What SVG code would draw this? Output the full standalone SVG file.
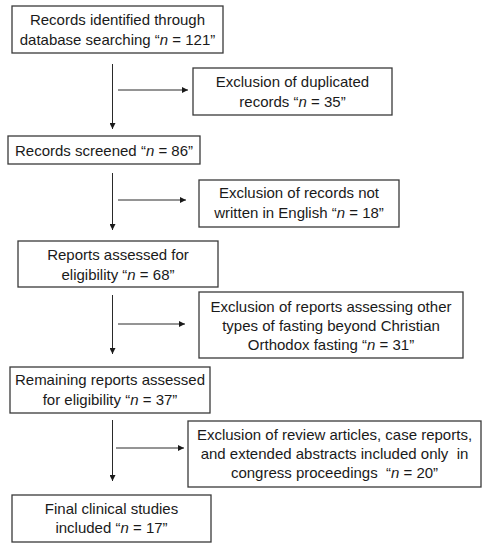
<svg xmlns="http://www.w3.org/2000/svg" width="487" height="550" viewBox="0 0 487 550">
<style>
.box{fill:#fff;stroke:#3a3a3a;stroke-width:1.3}
text{font-family:"Liberation Sans",Arial,sans-serif;font-size:15px;fill:#1a1a1a;text-anchor:middle}
.n{font-style:italic}
.c{stroke:#2a2a2a;stroke-width:1;fill:none;marker-end:url(#ah)}
</style>
<defs>
<marker id="ah" viewBox="0 0 6 6" refX="6" refY="3" markerWidth="6" markerHeight="6" markerUnits="userSpaceOnUse" orient="auto">
<path d="M0,0 L6,3 L0,6 z" fill="#1a1a1a"/>
</marker>
</defs>
<rect width="487" height="550" fill="#fff"/>
<g id="connectors">
<line class="c" x1="112.5" y1="64" x2="112.5" y2="129"/>
<line class="c" x1="118" y1="90" x2="188" y2="90"/>
<line class="c" x1="112.5" y1="173" x2="112.5" y2="230"/>
<line class="c" x1="118" y1="200" x2="186" y2="200"/>
<line class="c" x1="112.5" y1="295" x2="112.5" y2="354"/>
<line class="c" x1="118" y1="324" x2="185" y2="324"/>
<line class="c" x1="112.5" y1="420" x2="112.5" y2="481"/>
<line class="c" x1="116" y1="448" x2="184" y2="448"/>
</g>
<g id="n1">
<rect class="box" x="12" y="6" width="211" height="47"/>
<text x="117.5" y="25">Records identified through</text>
<text x="117.5" y="45">database searching “<tspan class="n">n</tspan> = 121”</text>
</g>
<g id="e1">
<rect class="box" x="193" y="68" width="199" height="47"/>
<text x="292.5" y="87">Exclusion of duplicated</text>
<text x="292.5" y="107">records “<tspan class="n">n</tspan> = 35”</text>
</g>
<g id="n2">
<rect class="box" x="8" y="136" width="192" height="28"/>
<text x="104" y="156">Records screened “<tspan class="n">n</tspan> = 86”</text>
</g>
<g id="e2">
<rect class="box" x="199" y="180" width="200" height="47"/>
<text x="299" y="198">Exclusion of records not</text>
<text x="299" y="218">written in English “<tspan class="n">n</tspan> = 18”</text>
</g>
<g id="n3">
<rect class="box" x="18" y="241" width="200" height="46"/>
<text x="118" y="260">Reports assessed for</text>
<text x="118" y="280">eligibility “<tspan class="n">n</tspan> = 68”</text>
</g>
<g id="e3">
<rect class="box" x="199" y="292" width="264" height="66"/>
<text x="331" y="312">Exclusion of reports assessing other</text>
<text x="331" y="331">types of fasting beyond Christian</text>
<text x="331" y="350">Orthodox fasting “<tspan class="n">n</tspan> = 31”</text>
</g>
<g id="n4">
<rect class="box" x="10" y="367" width="200" height="46"/>
<text x="110" y="385">Remaining reports assessed</text>
<text x="110" y="405">for eligibility “<tspan class="n">n</tspan> = 37”</text>
</g>
<g id="e4">
<rect class="box" x="188" y="421" width="293" height="66"/>
<text x="334.5" y="440">Exclusion of review articles, case reports,</text>
<text x="334.5" y="459" xml:space="preserve">and extended abstracts included only  in</text>
<text x="334.5" y="478" xml:space="preserve">congress proceedings  “<tspan class="n">n</tspan> = 20”</text>
</g>
<g id="n5">
<rect class="box" x="12" y="495" width="199" height="47"/>
<text x="111.5" y="514">Final clinical studies</text>
<text x="111.5" y="533">included “<tspan class="n">n</tspan> = 17”</text>
</g>
</svg>
